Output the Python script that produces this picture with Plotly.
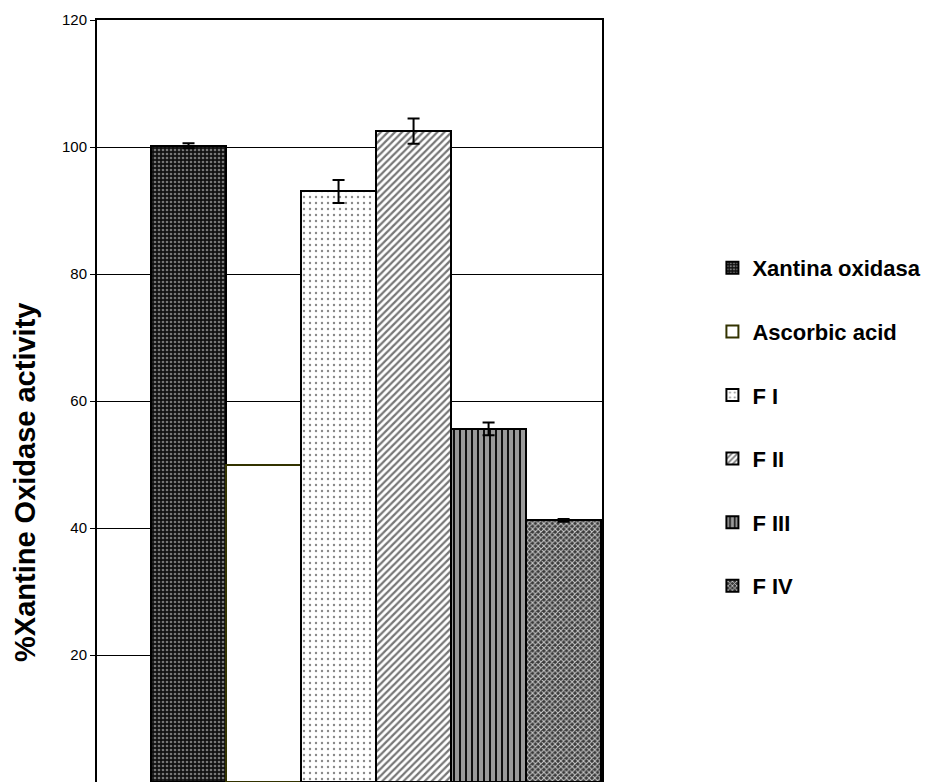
import plotly.graph_objects as go

categories = ["Xantina oxidasa", "Ascorbic acid", "F I", "F II", "F III", "F IV"]
values = [100.2, 50.0, 93.0, 102.5, 55.6, 41.2]
errors = [0.4, 0.0, 1.8, 2.0, 1.0, 0.2]
y_ticks = [0, 20, 40, 60, 80, 100, 120]

styles = {
    "Xantina oxidasa": dict(bg="#111111", fg="#777777", shape=".", size=4, sol=0.35, line="#000000"),
    "Ascorbic acid": dict(bg="#ffffff", fg="#ffffff", shape="", size=4, sol=0.3, line="#333300"),
    "F I": dict(bg="#ffffff", fg="#888888", shape=".", size=6, sol=0.12, line="#000000"),
    "F II": dict(bg="#ffffff", fg="#777777", shape="/", size=5, sol=0.45, line="#000000"),
    "F III": dict(bg="#9a9a9a", fg="#000000", shape="|", size=6, sol=0.3, line="#000000"),
    "F IV": dict(bg="#3a3a3a", fg="#c8c8c8", shape="x", size=4, sol=0.45, line="#000000"),
}

fig = go.Figure()
for i, name in enumerate(categories):
    s = styles[name]
    fig.add_trace(go.Bar(
        x=[""], y=[values[i]], name=name, legendgroup=name,
        marker=dict(color=s["bg"], line=dict(color=s["line"], width=2),
                    pattern=dict(shape=s["shape"], fgcolor=s["fg"], bgcolor=s["bg"],
                                 size=s["size"], solidity=s["sol"], fillmode="replace")),
        error_y=dict(type="data", array=[errors[i]], visible=errors[i] > 0,
                     color="black", thickness=2, width=6),
    ))

font_fam = "Liberation Sans, Arial"

fig.update_layout(
    width=933, height=782,
    margin=dict(l=89, r=339, t=12, b=8, autoexpand=False),
    paper_bgcolor="white", plot_bgcolor="white",
    barmode="group", bargap=0, bargroupgap=0,
    showlegend=True,
    legend=dict(xref="container", yref="container", x=0.755, y=1 - 239 / 782,
                xanchor="left", yanchor="top",
                font=dict(family=font_fam, size=22, color="black", weight="bold"),
                tracegroupgap=32, itemwidth=30, traceorder="grouped"),
    annotations=[dict(text="<b>%Xantine Oxidase activity</b>", textangle=-90,
                      xref="paper", yref="paper", x=-72 / 505, y=(781 - 482) / 762,
                      xanchor="center", yanchor="middle", showarrow=False,
                      font=dict(family=font_fam, size=29, color="black"))],
)
fig.update_xaxes(range=[-0.62, 0.502], showticklabels=False, ticks="",
                 showline=True, linecolor="black", linewidth=2, mirror=True,
                 showgrid=False, zeroline=False, automargin=False)
fig.update_yaxes(range=[0, 120], tickvals=y_ticks, ticks="outside", ticklen=5,
                 tickcolor="black", tickwidth=1, automargin=False,
                 tickfont=dict(family=font_fam, size=15, color="black"),
                 showline=True, linecolor="black", linewidth=2, mirror=True,
                 showgrid=True, gridcolor="black", gridwidth=1, zeroline=False)

fig.write_html("out.html")
